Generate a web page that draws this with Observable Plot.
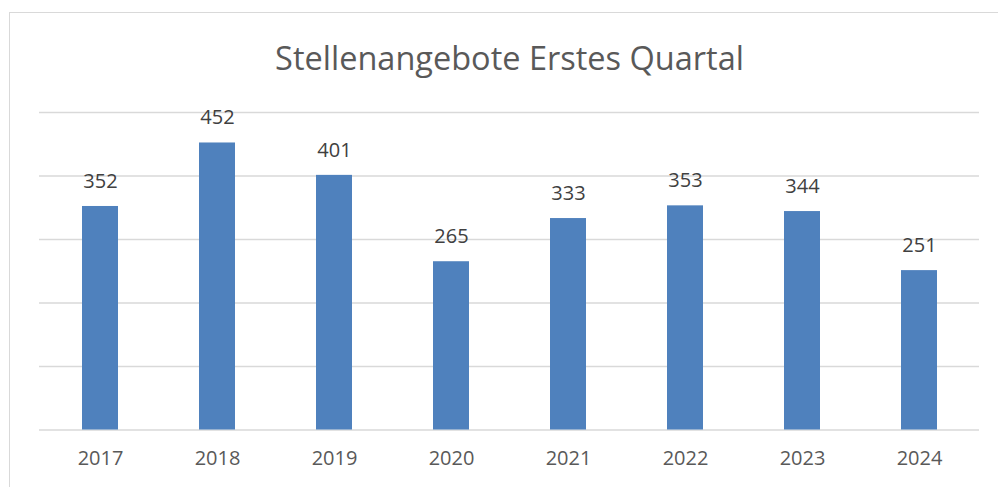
<!DOCTYPE html>
<html>
<head>
<meta charset="utf-8">
<script src="https://cdn.jsdelivr.net/npm/d3@7"></script>
<script src="https://cdn.jsdelivr.net/npm/@observablehq/plot@0.6"></script>
<style>
  html, body { margin: 0; padding: 0; background: #fff; }
  #wrap { position: relative; width: 998px; height: 487px; overflow: hidden; }
  #frame { position: absolute; left: 9px; top: 12px; width: 1100px; height: 600px;
           border-left: 1.5px solid #d9d9d9; border-top: 1.5px solid #d9d9d9; box-sizing: border-box; }
  #chart { position: absolute; left: 0; top: 0; }
</style>
</head>
<body>
<div id="wrap"><div id="frame"></div><div id="chart"></div></div>
<script>
const title = "Stellenangebote Erstes Quartal";
const years = ["2017", "2018", "2019", "2020", "2021", "2022", "2023", "2024"];
const values = [352, 452, 401, 265, 333, 353, 344, 251];
const gridTicks = [0, 100, 200, 300, 400, 500];

const data = years.map((year, i) => ({year, value: values[i]}));

const chart = Plot.plot({
  width: 998,
  height: 487,
  marginLeft: 39,
  marginRight: 19,
  marginTop: 112,
  marginBottom: 57.5,
  style: {fontFamily: "'Open Sans', sans-serif", background: "transparent"},
  x: {domain: years, paddingInner: 0.694, paddingOuter: 0.347, label: null},
  y: {domain: [0, 500], axis: null},
  marks: [
    Plot.ruleY(gridTicks, {stroke: "#d9d9d9", strokeWidth: 1.4}),
    Plot.barY(data, {x: "year", y: "value", fill: "#4f81bd"}),
    Plot.text(data, {x: "year", y: "value", text: d => String(d.value), dy: -25,
                     fontSize: 20, fill: "#404040"}),
    Plot.axisX({tickSize: 0, tickPadding: 21, fontSize: 20, fill: "#595959", label: null}),
    Plot.text([title], {frameAnchor: "top", text: d => d, dy: -66, fontSize: 32.5, fill: "#595959"})
  ]
});
document.getElementById("chart").appendChild(chart);
</script>
</body>
</html>
